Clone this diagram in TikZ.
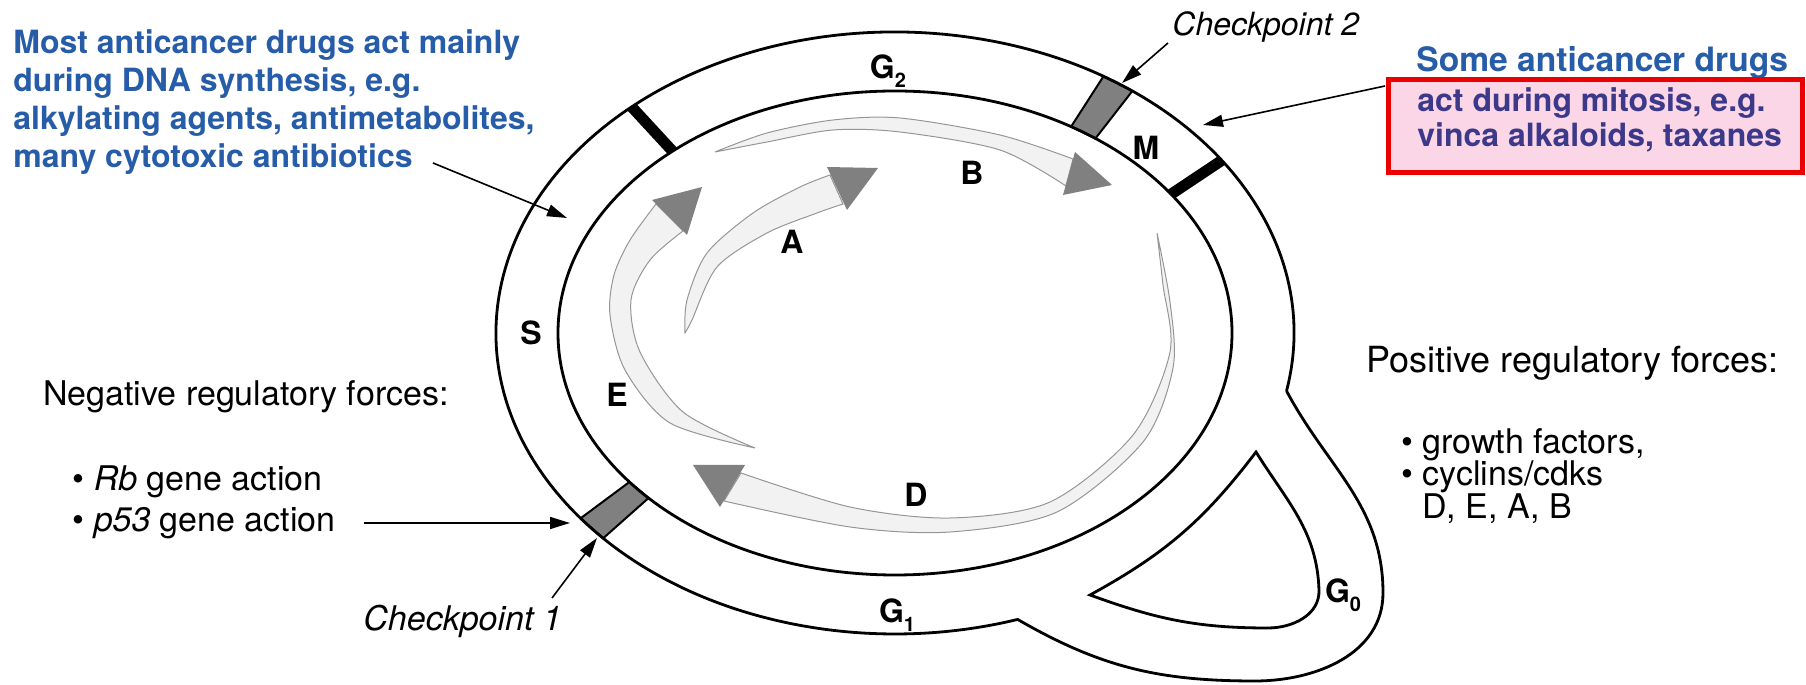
\documentclass[tikz,border=0pt]{standalone}
\usepackage{fontspec}
\setmainfont{TeX Gyre Heros}
\usetikzlibrary{arrows.meta}
\definecolor{drugblue}{RGB}{38,92,168}
\definecolor{drugnavy}{RGB}{60,56,138}
\definecolor{notepink}{RGB}{250,214,230}
\definecolor{notered}{RGB}{235,0,0}
\definecolor{headgray}{RGB}{128,128,128}
\definecolor{shaftgray}{RGB}{242,242,242}
\definecolor{edgegray}{RGB}{150,150,150}
\newcommand{\phasesub}[1]{\raisebox{-0.5ex}{\fontsize{10}{10}\selectfont #1}}

\begin{document}
\begin{tikzpicture}[x=0.5pt, y=0.5pt,
  note/.style={anchor=west, inner sep=0pt, font=\fontsize{17}{18}\selectfont},
  drugnote/.style={anchor=west, inner sep=0pt, align=left, text=drugblue, font=\bfseries\fontsize{16}{19}\selectfont},
  phase/.style={inner sep=0pt, font=\bfseries\fontsize{16}{16}\selectfont},
  rim/.style={line width=1.4pt},
  bar/.style={line width=5.5pt},
  checkbox/.style={draw, fill=headgray, line width=1pt},
  shaft/.style={fill=shaftgray, draw=edgegray, line width=0.5pt},
  headfill/.style={fill=headgray},
  pointer/.style={-{Triangle[length=10pt, width=6pt]}, line width=0.8pt}
]
  \useasboundingbox (0,0) rectangle (1806,685);

  % ring with checkpoints
  \begin{scope}[shift={(895,352)}]
    \foreach \t in {131.3,35}
      \draw[bar] (\t:337 and 242) -- (\t:399 and 301);
    \foreach \s/\u in {53.5/58.5,218/223}
      \filldraw[checkbox] (\s:337 and 242) -- (\s:399 and 301) -- (\u:399 and 301) -- (\u:337 and 242) -- cycle;
    \draw[rim] (0,0) ellipse[x radius=337, y radius=242];
    \coordinate (gzeroin) at (-11.1:399 and 301);
    \coordinate (gzeroout) at (-72.1:399 and 301);
  \end{scope}
  \draw[rim] (gzeroin) arc[start angle=-11.1, end angle=287.9, x radius=399, y radius=301]
    to[out=-30, in=180] (1255,4) to[out=0, in=-90] (1383,92) to[out=90, in=-62] (gzeroin);
  \draw[rim] (1090,90) to[bend right=12] (1256,233) to[out=-58, in=92] (1319,95)
    to[out=-88, in=0] (1268,57) to[out=180, in=-20] (1090,90) -- cycle;

  % shaded arrows
  \filldraw[shaft] plot[smooth] coordinates {(685,352) (687,385) (707,432) (753,472) (800,498) (830,510)}
    -- plot[smooth] coordinates {(843,481) (817,472) (767,452) (717,418) (692,365) (685,352)} -- cycle;
  \fill[headfill] (827,518) -- (878,517) -- (847,475) -- cycle;
  \filldraw[shaft] plot[smooth] coordinates {(755,237) (670,262) (625,315) (610,370) (614,410) (630,445) (656,481)}
    -- plot[smooth] coordinates {(683,454) (650,425) (631,385) (640,333) (683,273) (755,237)} -- cycle;
  \fill[headfill] (652,485) -- (702,498) -- (687,450) -- cycle;
  \filldraw[shaft] plot[smooth] coordinates {(715,533) (767,552) (833,565) (900,567) (1000,550) (1073,526)}
    -- plot[smooth] coordinates {(1066,499) (1000,535) (900,553) (833,555) (767,543) (715,533)} -- cycle;
  \fill[headfill] (1075,533) -- (1112,500) -- (1063,490) -- cycle;
  \filldraw[shaft] plot[smooth] coordinates {(1157,452) (1170,383) (1173,317) (1143,243) (1057,173) (950,153) (850,158) (724,184)}
    -- plot[smooth] coordinates {(741,212) (850,178) (950,167) (1050,183) (1133,250) (1170,333) (1163,400) (1157,452)} -- cycle;
  \fill[headfill] (745,220) -- (693,220) -- (720,178) -- cycle;

  % phase labels
  \node[phase] (gtwo) at (888,614) {G\phasesub{2}};
  \node[phase] (mphase) at (1146,537) {M};
  \node[phase] (sphase) at (531,352) {S};
  \node[phase] (gone) at (897,70) {G\phasesub{1}};
  \node[phase] (gzero) at (1343,90) {G\phasesub{0}};
  \node[phase] (alabel) at (792,443) {A};
  \node[phase] (blabel) at (972,512) {B};
  \node[phase] (dlabel) at (916,190) {D};
  \node[phase] (elabel) at (617,290) {E};

  % notes
  \node[drugnote] (dnanote) at (13,583) {Most anticancer drugs act mainly\\during DNA synthesis, e.g.\\alkylating agents, antimetabolites,\\many cytotoxic antibiotics};
  \node[drugnote, font=\bfseries\fontsize{16.8}{19}\selectfont] (mitosisnote) at (1416,622) {Some anticancer drugs};
  \node[draw=notered, fill=notepink, line width=2.5pt, minimum width=207pt, minimum height=46.5pt, inner sep=0pt] (mitosisbox) at (1595,558.5) {};
  \node[drugnote, text=drugnavy, font=\bfseries\fontsize{16}{17.5}\selectfont] (mitosistext) at (1417,565) {act during mitosis, e.g.\\vinca alkaloids, taxanes};
  \node[note, font=\itshape\fontsize{16}{18}\selectfont] (cptwo) at (1172,658) {Checkpoint 2};
  \node[note, font=\itshape\fontsize{17}{18}\selectfont] (cpone) at (363,64) {Checkpoint 1};
  \node[note] (negforces) at (43,288) {Negative regulatory forces:};
  \node[note] (rbline) at (72,203) {\textbullet\ \textit{Rb} gene action};
  \node[note] (pline) at (72,162) {\textbullet\ \textit{p53} gene action};
  \node[note, font=\fontsize{18}{18}\selectfont] (posforces) at (1366,322) {Positive regulatory forces:};
  \node[note] (growth) at (1401,240) {\textbullet\ growth factors,};
  \node[note] (cyclins) at (1401,208) {\textbullet\ cyclins/cdks};
  \node[note] (cyclinlist) at (1422,176) {D, E, A, B};

  % pointers
  \coordinate (dnafoot) at (433,522);
  \coordinate (dnatip) at (567,467);
  \coordinate (ponetip) at (570,162);
  \coordinate (cponefoot) at (552,87);
  \coordinate (cponetip) at (597,147);
  \coordinate (cptwofoot) at (1168,642);
  \coordinate (cptwotip) at (1122,602);
  \coordinate (mitosisfoot) at (1385,599);
  \coordinate (mitosistip) at (1203,560);
  \draw[pointer] (dnafoot) -- (dnatip);
  \draw[pointer] ([xshift=14pt]pline.east) -- (ponetip);
  \draw[pointer] (cponefoot) -- (cponetip);
  \draw[pointer] (cptwofoot) -- (cptwotip);
  \draw[pointer] (mitosisfoot) -- (mitosistip);
\end{tikzpicture}
\end{document}
